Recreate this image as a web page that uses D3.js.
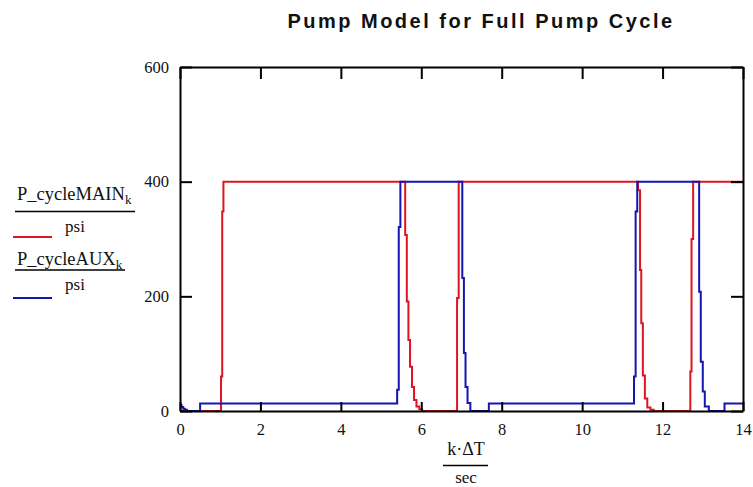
<!DOCTYPE html>
<html>
<head>
<meta charset="utf-8">
<script src="https://cdn.jsdelivr.net/npm/d3@7"></script>
<style>
  body { margin: 0; background: #fff; }
  svg { display: block; }
  .serif { font-family: "Liberation Serif", "Times New Roman", "DejaVu Serif", serif; }
</style>
</head>
<body>
<div id="chart"></div>
<script>
// step breakpoints: value holds from each time until the next one
const mainT = [0, 1.02, 1.05, 1.08, 5.60, 5.64, 5.68, 5.72, 5.77, 5.82, 5.88, 5.95, 6.02, 6.89, 6.93, 11.39, 11.44, 11.47, 11.51, 11.56, 11.62, 11.70, 11.78, 12.69, 12.72, 12.76, 14];
const mainV = [0, 60, 348, 400, 307, 191, 124, 77, 42, 19, 8, 3, 0, 197, 400, 385, 246, 153, 62, 22, 6, 2, 0, 69, 300, 400, 400];

const auxT = [0, 0.04, 0.08, 0.12, 0.17, 0.50, 5.40, 5.44, 5.48, 7.02, 7.06, 7.10, 7.15, 7.22, 7.68, 11.29, 11.33, 11.37, 12.91, 12.95, 13.00, 13.05, 13.15, 13.54, 14];
const auxV = [10, 7, 4, 2, 0, 13, 37, 321, 400, 232, 101, 42, 14, 0, 13, 60, 348, 400, 208, 86, 34, 8, 0, 13, 13];

const xTicks = [0, 2, 4, 6, 8, 10, 12, 14];
const yTicks = [0, 200, 400, 600];

function PlotPump(parent_element) {
  const W = 753, H = 487;
  const left = 180, right = 743, top = 67, bottom = 411;

  const svg = d3.select(`#${parent_element}`)
    .append("svg")
    .attr("width", W)
    .attr("height", H);

  const x = d3.scaleLinear().domain([0, 14]).range([left, right]);
  const y = d3.scaleLinear().domain([0, 600]).range([bottom, top]);

  // title
  svg.append("text")
    .attr("x", 481)
    .attr("y", 28)
    .attr("text-anchor", "middle")
    .style("font-family", "'Liberation Sans', Arial, sans-serif")
    .style("font-weight", "bold")
    .style("font-size", "20px")
    .style("letter-spacing", "2.5px")
    .attr("fill", "#111")
    .text("Pump Model for Full Pump Cycle");

  // series
  const line = d3.line()
    .x(d => x(d[0]))
    .y(d => y(d[1]))
    .curve(d3.curveStepAfter);

  const mainData = mainT.map((t, i) => [t, mainV[i]]);
  const auxData = auxT.map((t, i) => [t, auxV[i]]);

  svg.append("path")
    .datum(mainData)
    .attr("fill", "none")
    .attr("stroke", "#dd1520")
    .attr("stroke-width", 2)
    .attr("d", line);

  svg.append("path")
    .datum(auxData)
    .attr("fill", "none")
    .attr("stroke", "#1515b0")
    .attr("stroke-width", 2)
    .attr("d", line);

  // axes: bottom/left with labels, top/right ticks only (all ticks inward)
  const tickStyle = g => {
    g.attr("font-family", null).attr("font-size", null);
    g.select(".domain").attr("stroke", "#000").attr("stroke-width", 2);
    g.selectAll(".tick line").attr("stroke", "#000").attr("stroke-width", 2);
    g.selectAll(".tick text")
      .attr("class", "serif")
      .style("font-size", "16.5px")
      .attr("fill", "#111");
  };

  svg.append("g")
    .attr("transform", `translate(0,${bottom})`)
    .call(d3.axisBottom(x).tickValues(xTicks).tickSizeInner(-9).tickSizeOuter(0).tickPadding(12))
    .call(tickStyle);

  svg.append("g")
    .attr("transform", `translate(0,${top})`)
    .call(d3.axisTop(x).tickValues(xTicks).tickSizeInner(-12).tickSizeOuter(0).tickFormat(""))
    .call(tickStyle);

  svg.append("g")
    .attr("transform", `translate(${left},0)`)
    .call(d3.axisLeft(y).tickValues(yTicks).tickSizeInner(-12).tickSizeOuter(0).tickPadding(11))
    .call(tickStyle);

  svg.append("g")
    .attr("transform", `translate(${right},0)`)
    .call(d3.axisRight(y).tickValues(yTicks).tickSizeInner(-12).tickSizeOuter(0).tickFormat(""))
    .call(tickStyle);

  // y legend (Mathcad style fractions)
  const legends = [
    {name: "P_cycleMAIN", color: "#dd1520", base: 200, bar: 211.5, unit: 231.5, sample: 237, barEnd: 135},
    {name: "P_cycleAUX", color: "#1515b0", base: 265, bar: 270, unit: 290, sample: 298, barEnd: 125}
  ];
  legends.forEach(l => {
    const t = svg.append("text")
      .attr("class", "serif")
      .attr("x", 17)
      .attr("y", l.base)
      .style("font-size", "18.5px")
      .attr("fill", "#111");
    t.append("tspan").text(l.name);
    t.append("tspan").attr("dy", 4).style("font-size", "13px").text("k");

    svg.append("line")
      .attr("x1", 15).attr("x2", l.barEnd)
      .attr("y1", l.bar).attr("y2", l.bar)
      .attr("stroke", "#000").attr("stroke-width", 1.5);

    svg.append("text")
      .attr("class", "serif")
      .attr("x", 75)
      .attr("y", l.unit)
      .attr("text-anchor", "middle")
      .style("font-size", "17px")
      .attr("fill", "#111")
      .text("psi");

    svg.append("line")
      .attr("x1", 13).attr("x2", 52)
      .attr("y1", l.sample).attr("y2", l.sample)
      .attr("stroke", l.color).attr("stroke-width", 2);
  });

  // x label fraction
  svg.append("text")
    .attr("class", "serif")
    .attr("x", 466)
    .attr("y", 455)
    .attr("text-anchor", "middle")
    .style("font-size", "18px")
    .attr("fill", "#111")
    .text("k\u00b7\u0394T");

  svg.append("line")
    .attr("x1", 443).attr("x2", 488)
    .attr("y1", 465.5).attr("y2", 465.5)
    .attr("stroke", "#000").attr("stroke-width", 1.5);

  svg.append("text")
    .attr("class", "serif")
    .attr("x", 466)
    .attr("y", 483)
    .attr("text-anchor", "middle")
    .style("font-size", "17px")
    .attr("fill", "#111")
    .text("sec");
}

document.addEventListener('DOMContentLoaded', () => {
  PlotPump("chart");
});
</script>
</body>
</html>
